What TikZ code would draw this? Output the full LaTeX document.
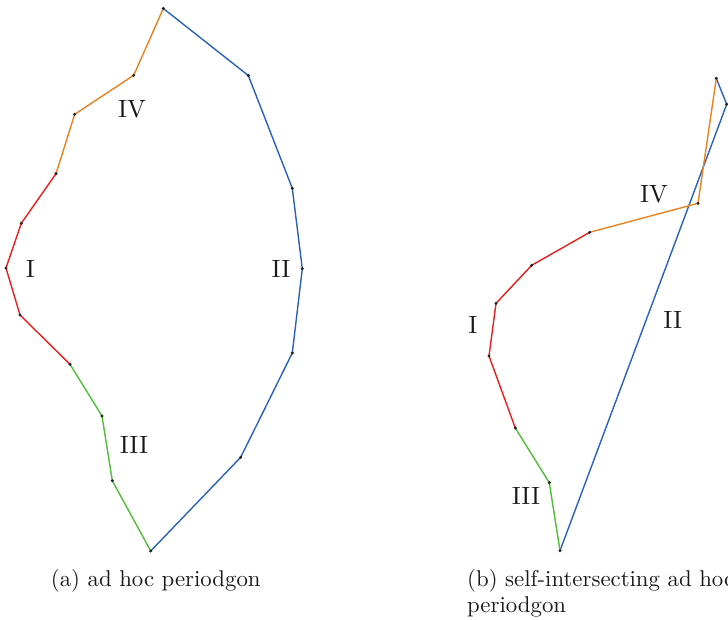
\documentclass[tikz,border=0pt]{standalone}
\begin{document}
\begin{tikzpicture}[x=1pt,y=-1pt,
  seg/.style={line width=1.4pt, line join=round, line cap=round},
  vdot/.style={fill=black!85, draw=none},
  lbl/.style={inner sep=0pt, font=\fontsize{10}{12}\selectfont, text=black!90},
  captxt/.style={inner sep=0pt, anchor=base west, font=\fontsize{10}{12}\selectfont, text=black!90}]
\definecolor{cred}{RGB}{230,32,30}
\definecolor{corange}{RGB}{232,130,30}
\definecolor{cgreen}{RGB}{80,190,56}
\definecolor{cblue}{RGB}{42,98,184}
\newcommand{\lbltxt}[1]{\scalebox{2.5}{#1}}
\newcommand{\captext}[1]{\scalebox{2.28}{#1}}
\useasboundingbox (0,0) rectangle (728,620);
% ---------- (a) ----------
\coordinate (a1) at (163.3,8.5);
\coordinate (a2) at (248.3,75.5);
\coordinate (a3) at (292.3,188.3);
\coordinate (a4) at (302.3,268.7);
\coordinate (a5) at (292.3,353);
\coordinate (a6) at (240.7,457.3);
\coordinate (a7) at (150.7,551);
\coordinate (a8) at (112.3,480.7);
\coordinate (a9) at (102,416);
\coordinate (a10) at (70,364.3);
\coordinate (a11) at (20,315);
\coordinate (a12) at (6,268);
\coordinate (a13) at (21.3,223.3);
\coordinate (a14) at (56,173.7);
\coordinate (a15) at (74.7,114.3);
\coordinate (a16) at (133.7,75.3);
\draw[seg,cblue] (a1) -- (a2) -- (a3) -- (a4) -- (a5) -- (a6) -- (a7);
\draw[seg,cgreen] (a7) -- (a8) -- (a9) -- (a10);
\draw[seg,cred] (a10) -- (a11) -- (a12) -- (a13) -- (a14);
\draw[seg,corange] (a14) -- (a15) -- (a16) -- (a1);
\foreach \p in {a1,a2,a3,a4,a5,a6,a7,a8,a9,a10,a11,a12,a13,a14,a15,a16}
  \fill[vdot] (\p) circle (1.7pt);
\node[lbl] (la4) at (132,109) {\lbltxt{IV}};
\node[lbl] (la1) at (30.5,268.8) {\lbltxt{I}};
\node[lbl] (la2) at (281,268.5) {\lbltxt{II}};
\node[lbl] (la3) at (134,444.5) {\lbltxt{III}};
\node[captxt] (capa) at (50.7,586) {\captext{(a) ad hoc periodgon}};
% ---------- (b) ----------
\coordinate (b1) at (716.3,78.3);
\coordinate (b2) at (726.7,104.3);
\coordinate (b3) at (560,550.7);
\coordinate (b4) at (549.3,482.7);
\coordinate (b5) at (515.3,428);
\coordinate (b6) at (489,356);
\coordinate (b7) at (496,303.3);
\coordinate (b8) at (531.7,265.3);
\coordinate (b9) at (589.7,232.3);
\coordinate (b10) at (698,203.3);
\draw[seg,cblue] (b1) -- (b2) -- (b3);
\draw[seg,cgreen] (b3) -- (b4) -- (b5);
\draw[seg,cred] (b5) -- (b6) -- (b7) -- (b8) -- (b9);
\draw[seg,corange] (b9) -- (b10) -- (b1);
\foreach \p in {b1,b2,b3,b4,b5,b6,b7,b8,b9,b10}
  \fill[vdot] (\p) circle (1.7pt);
\node[lbl] (lb4) at (654,194) {\lbltxt{IV}};
\node[lbl] (lb1) at (472.8,325) {\lbltxt{I}};
\node[lbl] (lb2) at (672.7,320) {\lbltxt{II}};
\node[lbl] (lb3) at (526,496) {\lbltxt{III}};
\node[captxt] (capb1) at (467,586) {\captext{(b) self-intersecting ad hoc}};
\node[captxt] (capb2) at (467,612) {\captext{periodgon}};
\end{tikzpicture}
\end{document}
